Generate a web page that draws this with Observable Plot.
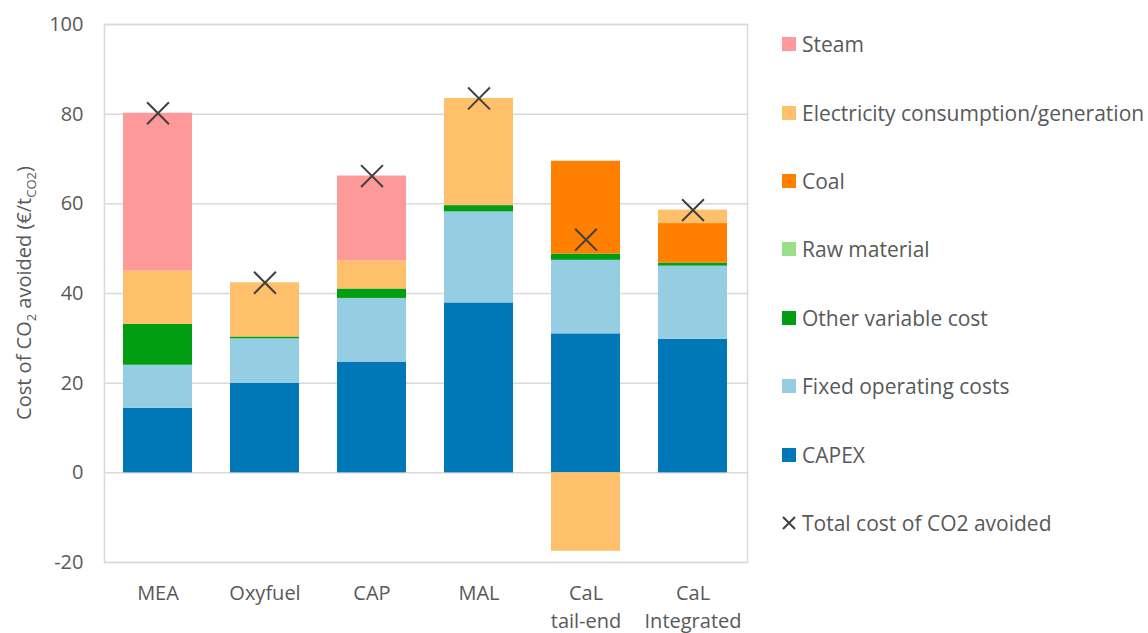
<!DOCTYPE html>
<html>
<head>
<meta charset="utf-8">
<script src="https://cdn.jsdelivr.net/npm/d3@7"></script>
<script src="https://cdn.jsdelivr.net/npm/@observablehq/plot@0.6"></script>
<style>
  html, body { margin: 0; padding: 0; background: #fff; }
  #wrap { position: relative; width: 1148px; height: 633px; font-family: "Open Sans", sans-serif; color: #595959; }
  #legend { position: absolute; left: 782px; top: 10px; }
  .item { height: 68.4px; display: flex; align-items: center; font-size: 21px; white-space: nowrap; }
  .sw { width: 14px; height: 14px; margin-right: 6px; flex: none; }
</style>
</head>
<body>
<div id="wrap"><div id="legend"></div></div>
<script>
const categories = ["MEA", "Oxyfuel", "CAP", "MAL", "CaL tail-end", "CaL Integrated"];
const seriesNames = ["CAPEX", "Fixed operating costs", "Other variable cost", "Raw material", "Coal", "Electricity consumption/generation", "Steam"];
const seriesColors = ["#0077B6", "#95CDE3", "#009E10", "#9BDE8A", "#FF8000", "#FFC06B", "#FF9999"];
const capex    = [14.4, 20.0, 24.7, 37.9, 31.0, 29.8];
const fixedOp  = [9.6, 9.9, 14.2, 20.3, 16.4, 16.3];
const otherVar = [9.1, 0.4, 2.1, 1.4, 1.4, 0.7];
const rawMat   = [0, 0, 0, 0, 0, 0];
const coal     = [0, 0, 0, 0, 20.7, 8.8];
const elec     = [11.9, 12.1, 6.3, 23.9, -17.5, 3.0];
const steam    = [35.2, 0, 18.9, 0, 0, 0];
const total    = [80.2, 42.4, 66.2, 83.5, 52.0, 58.6];
const yTicks   = [-20, 0, 20, 40, 60, 80, 100];
const totalLabel = "Total cost of CO2 avoided";

const seriesValues = [capex, fixedOp, otherVar, rawMat, coal, elec, steam];
const rows = [];
seriesNames.forEach((s, i) => categories.forEach((c, j) => rows.push({cat: c, series: s, value: seriesValues[i][j]})));
const totals = categories.map((c, j) => ({cat: c, value: total[j]}));

const svg = Plot.plot({
  width: 1148, height: 633,
  marginLeft: 104, marginRight: 401, marginTop: 24, marginBottom: 71,
  style: {fontFamily: "Open Sans, sans-serif", color: "#595959", background: "white"},
  x: {domain: categories, paddingInner: 0.354, paddingOuter: 0.17, label: null},
  y: {domain: [-20, 100], label: null},
  color: {domain: seriesNames, range: seriesColors},
  marks: [
    Plot.ruleY(yTicks, {stroke: "#d9d9d9", strokeWidth: 1.5}),
    Plot.frame({stroke: "#d9d9d9", strokeWidth: 1.5}),
    Plot.barY(rows, {x: "cat", y: "value", fill: "series", order: seriesNames}),
    Plot.dot(totals, {x: "cat", y: "value", symbol: "times", r: 10, stroke: "#404040", strokeWidth: 2}),
    Plot.axisY({ticks: yTicks, tickSize: 0, tickPadding: 21, fontSize: 20, label: null, fill: "#595959",
      tickFormat: d => String(d)}),
    Plot.axisX({tickSize: 0, tickPadding: 18, fontSize: 20, label: null, lineHeight: 1.38, fill: "#595959",
      tickFormat: d => d.replace(" ", "\n")})
  ]
});

// y-axis title with subscripts
const t = d3.select(svg).append("text")
  .attr("transform", "translate(31,293) rotate(-90)")
  .attr("text-anchor", "middle")
  .attr("fill", "#595959")
  .attr("font-size", 20)
  .attr("font-family", "Open Sans, sans-serif");
t.append("tspan").text("Cost of CO");
t.append("tspan").attr("font-size", 13).attr("dy", 5).text("2");
t.append("tspan").attr("dy", -5).text(" avoided (€/t");
t.append("tspan").attr("font-size", 13).attr("dy", 5).text("CO2");
t.append("tspan").attr("dy", -5).text(")");

document.getElementById("wrap").prepend(svg);
svg.style.position = "absolute"; svg.style.left = "0"; svg.style.top = "0";

// legend
const legend = d3.select("#legend");
const legendOrder = [...seriesNames].reverse();
legendOrder.forEach(s => {
  const it = legend.append("div").attr("class", "item");
  it.append("div").attr("class", "sw").style("background", seriesColors[seriesNames.indexOf(s)]);
  it.append("span").text(s);
});
const last = legend.append("div").attr("class", "item");
last.append("svg").attr("width", 14).attr("height", 14).style("margin-right", "6px")
  .append("path").attr("d", "M1,1L13,13M13,1L1,13").attr("stroke", "#404040").attr("stroke-width", 2);
last.append("span").text(totalLabel);
</script>
</body>
</html>
